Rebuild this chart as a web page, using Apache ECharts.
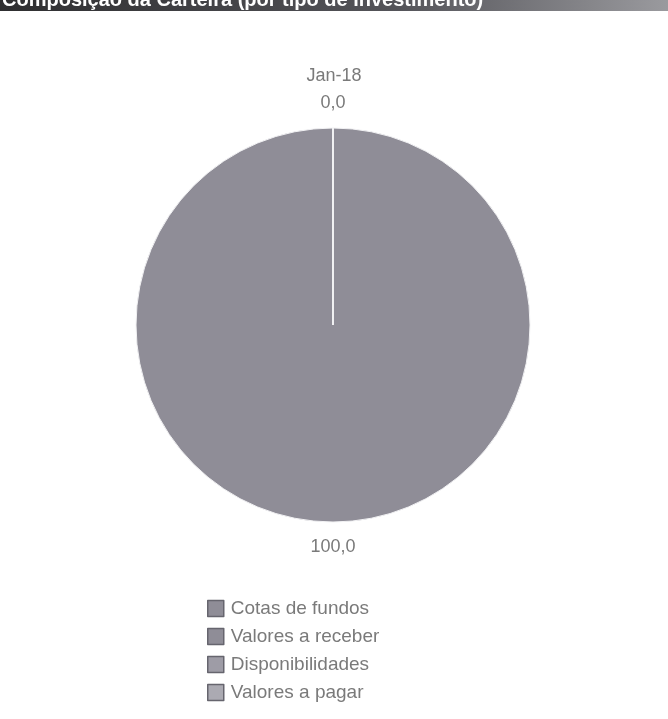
<!DOCTYPE html>
<html>
<head>
<meta charset="utf-8">
<script src="https://cdn.jsdelivr.net/npm/echarts@6/dist/echarts.min.js"></script>
<style>html,body{margin:0;padding:0;background:#fff}#c{width:668px;height:719px}</style>
</head>
<body>
<div id="c"></div>
<script>
const chartTitle = 'Composição da Carteira (por tipo de investimento)';
const period = 'Jan-18';
const categories = ['Cotas de fundos', 'Valores a receber', 'Disponibilidades', 'Valores a pagar'];
const values = [100.0, 0.0, 0.0, 0.0];
const colors = ['#8f8d97', '#8f8d97', '#9e9ca6', '#abaab2'];
const labeledIndex = [0, 1];

const chart = echarts.init(document.getElementById('c'));
const fmt = v => v.toFixed(1).replace('.', ',');
const FONT = '"Liberation Sans", Arial, sans-serif';

chart.setOption({
  animation: false,
  backgroundColor: '#fff',
  graphic: [
    {type: 'rect', left: 0, top: 0, shape: {width: 668, height: 11},
     style: {fill: new echarts.graphic.LinearGradient(0, 0, 1, 0, [
       {offset: 0, color: '#2e2e30'}, {offset: 0.6, color: '#55555a'}, {offset: 1, color: '#9a9a9e'}])}},
    {type: 'text', x: 2, y: -10,
     style: {text: chartTitle, fill: '#fff', font: 'bold 20px ' + FONT, verticalAlign: 'top'}}
  ],
  title: {
    text: period, left: 'center', top: 62,
    textStyle: {color: '#7a7a7a', fontSize: 18, fontWeight: 'normal', fontFamily: FONT}
  },
  legend: {
    orient: 'vertical', left: 202, top: 594,
    itemWidth: 16, itemHeight: 16, itemGap: 9,
    icon: 'rect',
    data: categories,
    itemStyle: {borderColor: '#66656e', borderWidth: 1.5},
    textStyle: {color: '#7a7a7a', fontSize: 19, lineHeight: 18, fontFamily: FONT, padding: [0, 0, 0, 2]}
  },
  series: [{
    type: 'pie',
    center: [333, 325], radius: 197,
    startAngle: 90, clockwise: true,
    avoidLabelOverlap: false,
    stillShowZeroSum: true,
    itemStyle: {borderColor: '#f2f2f4', borderWidth: 1},
    label: {
      show: true, position: 'outside', distanceToLabelLine: 0,
      color: '#7a7a7a', fontSize: 18, fontFamily: FONT,
      formatter: p => fmt(p.value)
    },
    labelLine: {show: false, length: 25, length2: 0},
    labelLayout: () => ({align: 'center', verticalAlign: 'middle'}),
    emphasis: {disabled: true},
    data: categories.map((name, i) => ({
      name, value: values[i],
      itemStyle: {color: colors[i]},
      label: {show: labeledIndex.includes(i)}
    }))
  }]
});
</script>
</body>
</html>
